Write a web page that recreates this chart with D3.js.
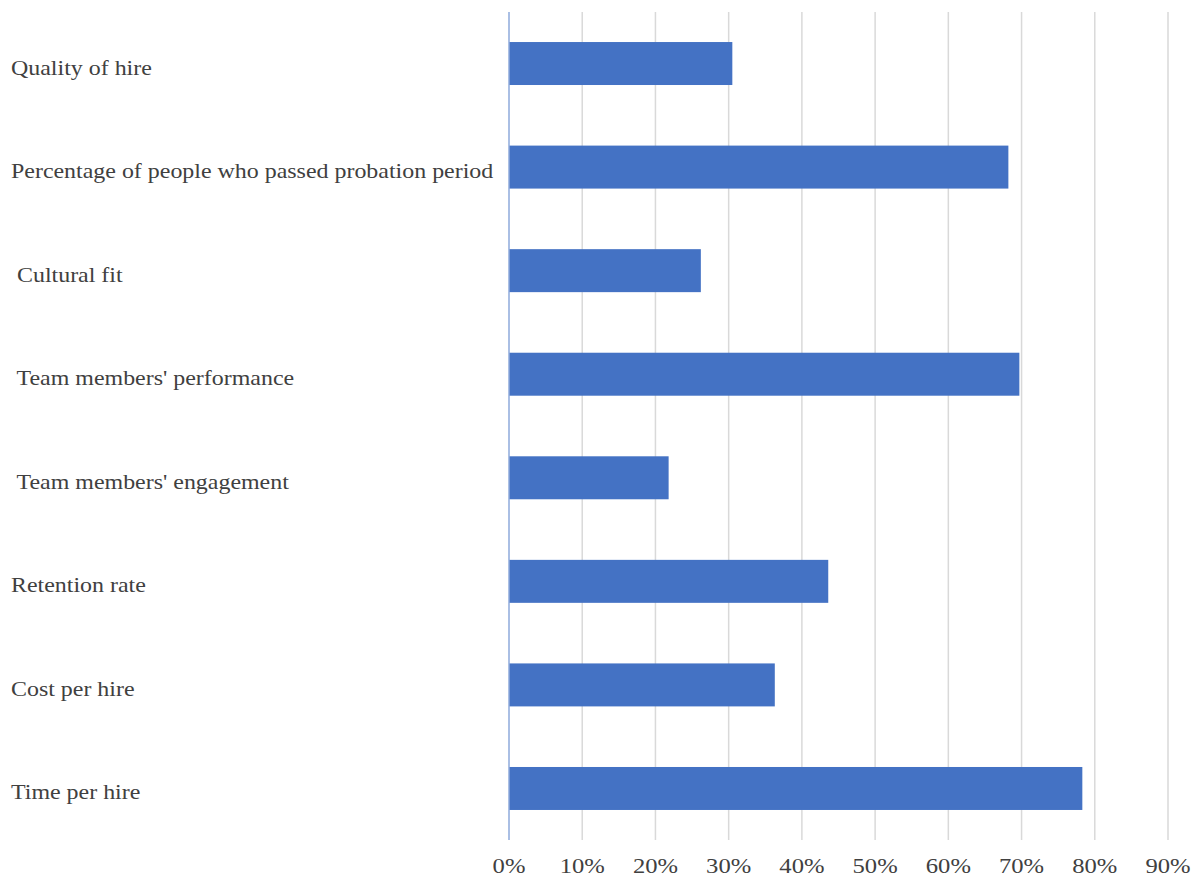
<html>
  <head>
    <meta charset="utf-8">
    <style>
      body { margin: 0; background: #fff; }
      text { font-family: "Liberation Serif", "Times New Roman", serif; fill: #404040; }
    </style>
  </head>
  <body>
    <script src="https://d3js.org/d3.v7.min.js"></script>
    <svg width="1204" height="880" id="svg1"></svg>
    <script>
    // categories top to bottom, as in the picture
    var categories = [
      "Quality of hire",
      "Percentage of people who passed probation period",
      " Cultural fit",
      " Team members' performance",
      " Team members' engagement",
      "Retention rate",
      "Cost per hire",
      "Time per hire"
    ];
    var values = [30.5, 68.2, 26.2, 69.7, 21.8, 43.6, 36.3, 78.3];
    var ticks = [0, 10, 20, 30, 40, 50, 60, 70, 80, 90];

    var svg = d3.select("#svg1"),
        plotLeft = 509, plotTop = 12, plotBottom = 840;

    var xScale = d3.scaleLinear().domain([0, 90]).range([plotLeft, 1168]),
        yScale = d3.scaleBand().domain(categories).range([plotTop, plotBottom]).paddingInner(0.585).paddingOuter(0.29);

    // gridlines
    svg.append("g")
       .selectAll("line")
       .data(ticks.slice(1))
       .enter().append("line")
       .attr("x1", function(d) { return xScale(d); })
       .attr("x2", function(d) { return xScale(d); })
       .attr("y1", plotTop)
       .attr("y2", plotBottom)
       .attr("stroke", "#d9d9d9")
       .attr("stroke-width", 1.5);

    // tick labels
    svg.append("g")
       .selectAll("text")
       .data(ticks)
       .enter().append("text")
       .attr("transform", function(d) { return "translate(" + xScale(d) + ",873) scale(1.12,1)"; })
       .attr("text-anchor", "middle")
       .attr("font-size", "22px")
       .text(function(d) { return d + "%"; });

    svg.append("g")
       .selectAll("rect")
       .data(values)
       .enter().append("rect")
       .attr("x", xScale(0))
       .attr("y", function(d, i) { return yScale(categories[i]); })
       .attr("width", function(d) { return xScale(d) - xScale(0); })
       .attr("height", yScale.bandwidth())
       .attr("fill", "#4472c4");

    // axis line
    svg.append("line")
       .attr("x1", xScale(0)).attr("x2", xScale(0))
       .attr("y1", plotTop).attr("y2", plotBottom)
       .attr("stroke", "#8eaadb")
       .attr("stroke-width", 1.5);

    // category labels
    svg.append("g")
       .selectAll("text")
       .data(categories)
       .enter().append("text")
       .attr("transform", function(d) {
         return "translate(11," + (yScale(d) + yScale.bandwidth() / 2 + 11) + ") scale(1.14,1)";
       })
       .attr("font-size", "21px")
       .style("white-space", "pre")
       .text(function(d) { return d; });
    </script>
  </body>
</html>
